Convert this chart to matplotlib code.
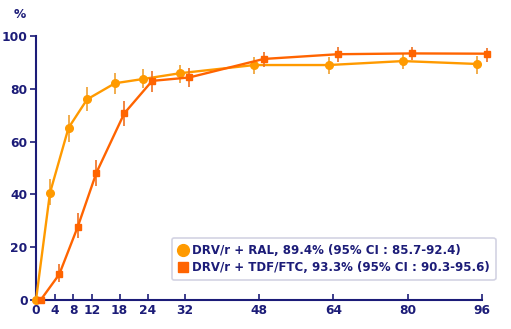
import matplotlib
matplotlib.use("Agg")
import matplotlib.pyplot as plt
import numpy as np

weeks = [0, 4, 8, 12, 18, 24, 32, 48, 64, 80, 96]
xtick_labels = ["0", "4", "8", "12", "18", "24", "32", "48", "64", "80", "96"]

ral_label = "DRV/r + RAL, 89.4% (95% CI : 85.7-92.4)"
ral_values = [0, 40.5, 65.2, 76.0, 82.1, 83.7, 85.9, 89.0, 89.0, 90.5, 89.4]
ral_low = [0, 36.0, 60.0, 71.6, 78.0, 80.2, 82.1, 85.6, 85.6, 87.4, 85.7]
ral_high = [0, 45.7, 70.1, 80.6, 85.9, 87.4, 88.9, 91.9, 91.9, 93.4, 92.4]

tdf_label = "DRV/r + TDF/FTC, 93.3% (95% CI : 90.3-95.6)"
tdf_values = [0, 9.7, 27.8, 48.2, 70.7, 83.0, 84.3, 91.3, 93.1, 93.4, 93.3]
tdf_low = [0, 7.0, 23.4, 43.2, 65.9, 78.9, 80.6, 88.4, 90.3, 90.9, 90.3]
tdf_high = [0, 13.6, 32.8, 53.0, 75.5, 86.7, 87.8, 94.1, 95.7, 95.9, 95.6]

navy = "#1c1c78"
c_ral = "#FF9A00"
c_tdf = "#FF6400"

fig = plt.figure(figsize=(5.11, 3.29), dpi=100)
ax = fig.add_axes([36/511, 29/329, 446/511, 264/329])

w = np.array(weeks, dtype=float)
x_ral = np.maximum(w - 1, 0)
x_tdf = w + 1

def errs(v, lo, hi):
    v = np.array(v); return [v - np.array(lo), np.array(hi) - v]

ax.errorbar(x_ral, ral_values, yerr=errs(ral_values, ral_low, ral_high), color=c_ral,
            ecolor="#EFA030", elinewidth=1.2, capsize=0, lw=1.7, marker="o", ms=5.5,
            clip_on=False, zorder=3, label=ral_label)
ax.errorbar(x_tdf, tdf_values, yerr=errs(tdf_values, tdf_low, tdf_high), color=c_tdf,
            ecolor="#EF7020", elinewidth=1.2, capsize=0, lw=1.7, marker="s", ms=5,
            clip_on=False, zorder=4, label=tdf_label)

ax.set_xlim(0, 96)
ax.set_ylim(0, 100)
ax.set_xticks(weeks)
ax.set_xticklabels(xtick_labels)
ax.set_yticks([0, 20, 40, 60, 80, 100])
for s in ["top", "right"]:
    ax.spines[s].set_visible(False)
for s in ["left", "bottom"]:
    ax.spines[s].set_color(navy)
    ax.spines[s].set_linewidth(1.5)
ax.tick_params(axis="x", direction="in", length=4, width=1.2, colors=navy, pad=3)
ax.tick_params(axis="y", direction="out", length=4, width=1.2, colors=navy, pad=2)
for lab in ax.get_xticklabels() + ax.get_yticklabels():
    lab.set_fontweight("bold")
    lab.set_fontsize(8.8)
    lab.set_color(navy)

fig.text(20/511, 1 - 15/329, "%", color=navy, fontsize=8.8, fontweight="bold",
         ha="center", va="center")

handles = [
    plt.Line2D([], [], color=c_ral, marker="o", ls="none", ms=8.5),
    plt.Line2D([], [], color=c_tdf, marker="s", ls="none", ms=7.5),
]
leg = ax.legend(handles, [ral_label, tdf_label], loc="lower left",
                bbox_to_anchor=(0.305, 0.076), frameon=True, fancybox=True,
                prop={"weight": "bold", "size": 8.5}, handlelength=0.8,
                handletextpad=0.4, borderpad=0.5, labelspacing=0.35,
                borderaxespad=0)
leg.get_frame().set_edgecolor("#c8c8dc")
leg.get_frame().set_linewidth(1.2)
for t in leg.get_texts():
    t.set_color(navy)
leg.set_clip_on(False)

fig.savefig("out.png", dpi=100)
